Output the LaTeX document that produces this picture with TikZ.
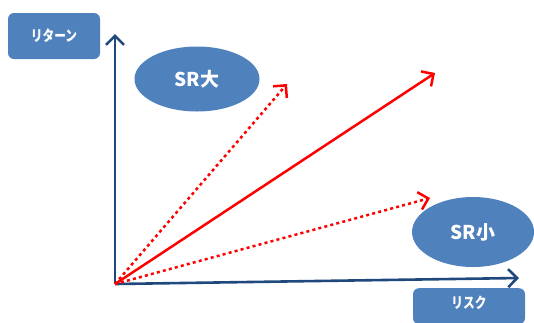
\documentclass[tikz,border=0pt]{standalone}
\usepackage{fontspec}
\newfontfamily\jp{Noto Sans CJK JP}
\usetikzlibrary{arrows.meta,shapes.geometric}
\definecolor{boxblue}{HTML}{4F81BD}
\definecolor{axisblue}{HTML}{1F497D}
\begin{document}
\begin{tikzpicture}[x=1pt,y=-1pt,
  lbl/.style={fill=boxblue,draw=none,rounded corners=6pt,inner sep=0pt},
  lbltext/.style={text=white,font=\jp\bfseries\fontsize{15}{17}\selectfont,xscale=0.78,inner sep=0pt},
  ell/.style={ellipse,fill=boxblue,draw=none,text=white,font=\jp\bfseries\fontsize{19}{21}\selectfont,inner sep=0pt},
  axis/.style={draw=axisblue,line width=2.6pt,-{Straight Barb[length=9pt,width=18pt,line width=2.6pt]}},
  ret/.style={draw=red,line width=2.5pt,-{Straight Barb[length=9pt,width=18pt,line width=2.5pt]}},
  retdot/.style={ret,dash pattern=on 3pt off 3.2pt}]
\useasboundingbox (0,0) rectangle (534,322);
\node[lbl,minimum width=92pt,minimum height=46pt] (ret) at (54,36) {};
\node[lbltext] (rett) at (ret.center) {リターン};
\node[lbl,minimum width=112pt,minimum height=36pt,anchor=north] (risk) at (469,288) {};
\node[lbltext] (riskt) at (469,303) {リスク};
\node[ell,minimum width=125pt,minimum height=65pt] (big) at (197,79) {SR大};
\node[ell,minimum width=122pt,minimum height=70pt] (small) at (473,232) {SR小};
\coordinate (o) at (115,284);
\coordinate (ytip) at (115,34);
\coordinate (xtip) at (519,278);
\coordinate (t1) at (287,84);
\coordinate (t2) at (435,73);
\coordinate (t3) at (430,198);
\draw[axis] (o) -- (ytip);
\draw[axis] (o) -- (xtip);
\draw[retdot] (o) -- (t1);
\draw[ret] (o) -- (t2);
\draw[retdot] (o) -- (t3);
\end{tikzpicture}
\end{document}
